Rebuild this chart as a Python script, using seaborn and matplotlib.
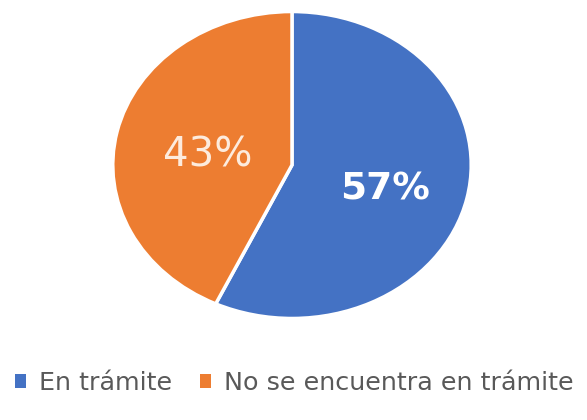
import matplotlib
matplotlib.use("Agg")
import matplotlib.pyplot as plt
import seaborn as sns

# Shares of cases by status
categories = ["En trámite", "No se encuentra en trámite"]
shares = [57, 43]
colors = ["#4472C4", "#ED7D31"]

sns.set_style("white")
plt.rcParams["font.family"] = ["DejaVu Sans"]

fig = plt.figure(figsize=(5.87, 4.2), dpi=100)
# pie stretched horizontally into an ellipse
ax = fig.add_axes([111 / 587, 100 / 420, 362 / 587, 310 / 420])

wedges, texts, autotexts = ax.pie(
    shares,
    colors=sns.color_palette(colors),
    startangle=90,
    counterclock=False,
    autopct=lambda p: f"{p:.0f}%",
    pctdistance=0.53,
    wedgeprops=dict(edgecolor="white", linewidth=2.5),
)
ax.set_aspect("auto")
ax.set_xlim(-1.01, 1.01)
ax.set_ylim(-1.01, 1.01)

autotexts[0].set(color="white", fontsize=27, fontweight="bold")
autotexts[1].set(color="#FDEBDD", fontsize=29, fontweight="normal")
# nudge the percentage labels slightly
x0, y0 = autotexts[0].get_position()
autotexts[0].set_position((x0, y0 - 0.045))
x1, y1 = autotexts[1].get_position()
autotexts[1].set_position((x1 + 0.045, y1 - 0.055))

leg = fig.legend(
    wedges,
    categories,
    loc="center",
    bbox_to_anchor=(0.501, 0.088),
    ncol=2,
    frameon=False,
    handlelength=0.45,
    handleheight=0.45,
    handletextpad=0.5,
    columnspacing=1.1,
    prop={"family": "DejaVu Sans", "size": 18.3},
    labelcolor="#595959",
)
for h in leg.legend_handles:
    h.set_edgecolor("none")

fig.savefig("out.png", dpi=100)
